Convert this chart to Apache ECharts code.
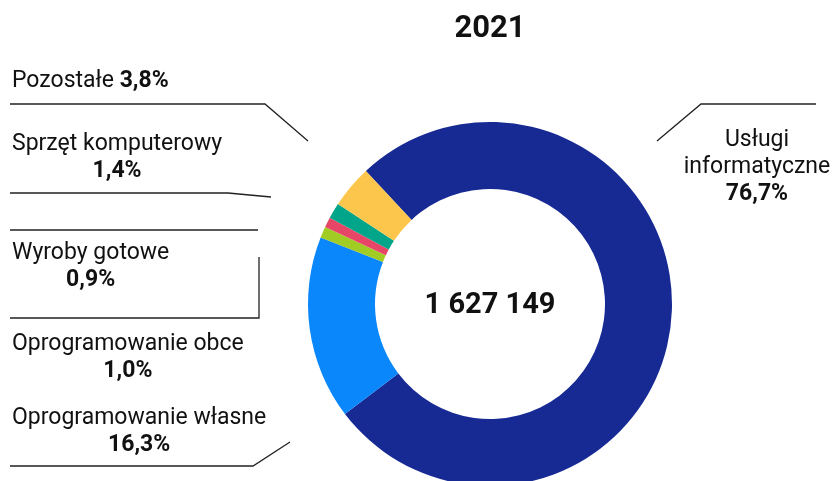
<!DOCTYPE html>
<html>
<head>
<meta charset="utf-8">
<script src="https://cdn.jsdelivr.net/npm/echarts@6/dist/echarts.min.js"></script>
<style>
html,body{margin:0;padding:0;background:#fff}
#c{width:832px;height:481px}
</style>
</head>
<body>
<div id="c"></div>
<script>
// ---- data ----
const chartTitle = '2021';
const total = 1627149;
const categories = ['Usługi informatyczne', 'Oprogramowanie własne', 'Oprogramowanie obce', 'Wyroby gotowe', 'Sprzęt komputerowy', 'Pozostałe'];
const shares = [76.7, 16.3, 1.0, 0.9, 1.4, 3.8];
const colors = ['#172a94', '#0a87fa', '#a1cc24', '#e84666', '#00a58a', '#fcc64c'];

// ---- label layout (text block placement + leader lines) ----
const placement = [
  { cx: 757, y: 167, text: '{n|Usługi}\n{n|informatyczne}\n{v|{p}}', line: [[657, 141], [701, 104], [816, 104]] },
  { left: 12, y: 432, text: '{n|Oprogramowanie własne}\n{v|{p}}', line: [[290, 442], [253, 466], [10, 466]] },
  { left: 12, y: 358, text: '{n|Oprogramowanie obce}\n{v|{p}}', line: [[258, 230], [258, 230], [10, 230]] },
  { left: 12, y: 267, text: '{n|Wyroby gotowe}\n{v|{p}}', line: [[259, 257], [259, 318], [10, 318]] },
  { left: 12, y: 158, text: '{n|Sprzęt komputerowy}\n{v|{p}}', line: [[271, 197], [228, 193], [10, 193]] },
  { left: 12, y: 81, single: true, text: '{n|Pozostałe} {v|{p}}', line: [[308, 141], [265, 104], [10, 104]] }
];

function fmtPct(v) { return v.toFixed(1).replace('.', ',') + '%'; }
function fmtTotal(v) { return String(v).replace(/\B(?=(\d{3})+(?!\d))/g, ' '); }

const chart = echarts.init(document.getElementById('c'), null, { renderer: 'canvas' });
const FONT = 'Roboto, "Noto Sans", sans-serif';
const FS = 23, LH = 27;

chart.setOption({
  animation: false,
  color: colors,
  title: [
    { text: chartTitle, left: 485, top: 9, textAlign: 'center',
      textStyle: { fontFamily: FONT, fontSize: 31, fontWeight: 'bold', color: '#111' } },
    { text: fmtTotal(total), left: 485, top: 286, textAlign: 'center',
      textStyle: { fontFamily: FONT, fontSize: 29, fontWeight: 'bold', color: '#111' } }
  ],
  series: [{
    type: 'pie',
    center: [490, 304],
    radius: [115, 182],
    startAngle: 133,
    clockwise: true,
    avoidLabelOverlap: false,
    data: categories.map((c, i) => ({ name: c, value: shares[i] })),
    itemStyle: { borderWidth: 0 },
    label: {
      show: true,
      position: 'outside',
      fontFamily: FONT,
      fontSize: FS,
      lineHeight: LH,
      color: '#111',
      formatter: (p) => placement[p.dataIndex].text.replace('{p}', fmtPct(shares[p.dataIndex])),
      rich: {
        n: { fontFamily: FONT, fontSize: FS, color: '#111', lineHeight: LH },
        v: { fontFamily: FONT, fontSize: FS, color: '#111', fontWeight: 'bold', lineHeight: LH }
      }
    },
    labelLine: { show: true, length: 10, length2: 10, lineStyle: { color: '#222', width: 1.3 } },
    labelLayout: function (params) {
      const pl = placement[params.dataIndex];
      let x, align;
      if (pl.single) { x = pl.left; align = 'left'; }
      else if (pl.cx != null) { x = pl.cx; align = 'center'; }
      else { x = pl.left + params.labelRect.width / 2; align = 'center'; }
      return { x: x, y: pl.y, align: align, verticalAlign: 'middle', labelLinePoints: pl.line };
    }
  }]
});
</script>
</body>
</html>
